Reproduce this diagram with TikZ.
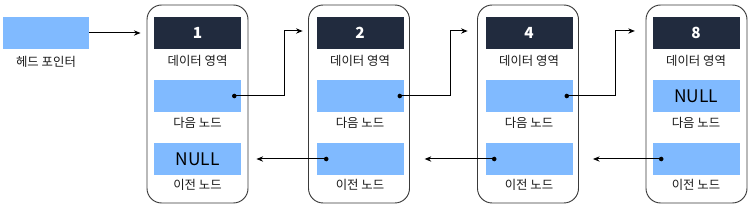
\documentclass[tikz,border=0pt]{standalone}
\usepackage{fontspec}
\setmainfont{Noto Sans CJK KR}
\usetikzlibrary{arrows.meta,calc}
\definecolor{navy}{HTML}{212B3E}
\definecolor{fieldblue}{HTML}{80BAFF}
\definecolor{framegray}{HTML}{3A3A3A}
\tikzset{
  frame/.style={draw=framegray, line width=0.7pt, rounded corners=11pt, minimum width=75.75pt, minimum height=148.5pt, inner sep=0pt},
  databox/.style={fill=navy, minimum width=65.25pt, minimum height=24pt, inner sep=0pt, text=white, font=\fontsize{11.5}{12}\selectfont\bfseries},
  fieldbox/.style={fill=fieldblue, minimum width=65.25pt, minimum height=24pt, inner sep=0pt, font=\fontsize{13}{14}\selectfont},
  lbl/.style={inner sep=0pt, font=\fontsize{9.3}{10}\selectfont, text=black!90},
  link/.style={line width=0.75pt, -{Stealth[length=5pt,width=4pt]}},
  dotc/.style={circle, fill=black, inner sep=0pt, minimum size=3.4pt}
}
\begin{document}
\begin{tikzpicture}[x=0.75pt,y=-0.75pt]
\useasboundingbox (0,0) rectangle (750,206);
% head pointer
\node[fieldbox, minimum width=64.5pt] (h) at (46,33) {};
\node[lbl] (hl) at (46,62) {헤드 포인터};
% node frames and fields
\foreach \i/\cx/\fx/\v/\nx/\pv in {1/197.5/197.5/1//NULL, 2/360/359/2//, 3/529/528/4//, 4/696/696.5/8/NULL/}{
  \node[frame] (f\i) at (\fx,104) {};
  \node[databox] (d\i) at (\cx,33) {\v};
  \node[lbl] (dl\i) at (\cx,61) {데이터 영역};
  \node[fieldbox] (nx\i) at (\cx,96) {\nx};
  \node[lbl] (nl\i) at (\cx,123) {다음 노드};
  \node[fieldbox] (pv\i) at (\cx,159) {\pv};
  \node[lbl] (pl\i) at (\cx,185) {이전 노드};
}
% head arrow
\draw[link, shorten >=4.5pt] (h.east) -- (h.east -| f1.west);
% next links
\node[dotc] (a1) at ([xshift=-5.25pt]nx1.east) {};
\node[dotc] (a2) at ([xshift=-3pt]nx2.east) {};
\node[dotc] (a3) at ([xshift=-4.5pt]nx3.east) {};
\coordinate (j1) at (284,31);
\coordinate (j2) at (450,31);
\coordinate (j3) at (615,31);
\draw[link, shorten >=4pt] (a1.center) -| (j1) -- (j1 -| f2.west);
\draw[link, shorten >=7pt] (a2.center) -| (j2) -- (j2 -| f3.west);
\draw[link, shorten >=8pt] (a3.center) -| (j3) -- (j3 -| f4.west);
% prev links
\node[dotc] (b2) at ([xshift=7.5pt]pv2.west) {};
\node[dotc] (b3) at ([xshift=6.75pt]pv3.west) {};
\node[dotc] (b4) at ([xshift=6.75pt]pv4.west) {};
\draw[link, shorten >=6pt] (b2.center) -- (b2 -| f1.east);
\draw[link, shorten >=11pt] (b3.center) -- (b3 -| f2.east);
\draw[link, shorten >=10.5pt] (b4.center) -- (b4 -| f3.east);
\end{tikzpicture}
\end{document}
